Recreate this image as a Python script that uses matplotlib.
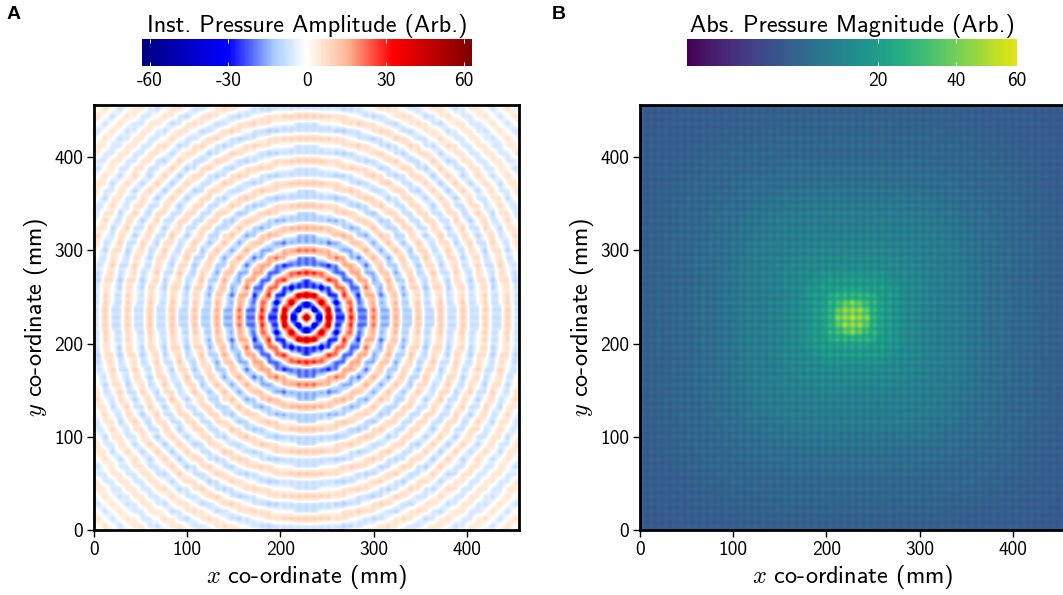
import numpy as np
import matplotlib
matplotlib.use("Agg")
import matplotlib.pyplot as plt
from matplotlib.colors import Normalize, PowerNorm, LinearSegmentedColormap, ListedColormap

inst_profile = [72,45,8,-5,-62,-42,-3,38,58,38,0,-32,-46,-32,0,26,38,26,0,-25,-36,-25,0,19,
                28,19,0,-18,-26,-18,0,13,20,13,0,-13,-20,-13,0,10,15,10,0,-11,-16,-11,0,9,
                14,9,0,-9,-14,-9,0,9,13,9,0,-9,-13,-9,0,8,12,8,0,-9,-14,-9,0,8,
                12,8,0,-8,-12,-8,0,7,10,7,0,-7,-11,-7,0,6,9,6,0,-7,-10,-7,0,5,
                8,5,0,-6,-9,-6,0,5,8,5,0,-5,-8,-5,0,5,7,5,0,-5,-7,-5]
abs_profile = [90,86,82,80,78,76,62,52,48,50,42,38,36,38,36,34,32,33,31,29,28,29,28,27,
               26,27,26,25,24,25,24,23,23,24,23,22,22,23,22,21,21,21,20,19,19,20,19,18,
               17,17,16,16,16,17,16,15,15,16,15,14,14,15,14,14,14,15,14,13,13,14,13,13,
               12,13,12,12,11,12,12,11,11,12,11,11,11,12,11,11,10,11,11,10,10,11,10,10,
               10,10,10,10,9,9,9,9,9,9,9,9,9,9,9,9,9,9,9,9]
# Brightness of lattice lines (even 4 mm cells) and lattice spots (odd cells)
inst_lattice = [0.65, 1.0]
abs_lattice = [0.42, 1.0]

inst_ticks = [-60, -30, 0, 30, 60]
inst_ticklabels = ["-60", "-30", "0", "30", "60"]
abs_ticks = [20, 40, 60]
abs_ticklabels = ["20", "40", "60"]
axis_ticks = [0, 100, 200, 300, 400]

plt.rcParams["font.family"] = ["cmss10", "DejaVu Sans"]
plt.rcParams["mathtext.fontset"] = "cm"
plt.rcParams["axes.unicode_minus"] = False

W, H = 1063, 595
fig = plt.figure(figsize=(W / 100, H / 100), dpi=100)


def box(l, t, r, b):
    return [l / W, 1 - b / H, (r - l) / W, (b - t) / H]


ax_a = fig.add_axes(box(94, 105, 519, 530))
ax_b = fig.add_axes(box(640, 105, 1065, 530))
cax_a = fig.add_axes(box(142, 39, 472, 66))
cax_b = fig.add_axes(box(687, 39, 1017, 66))

inst_cmap = LinearSegmentedColormap.from_list("inst", [
    (0.0, "#00007f"), (0.26, "#0000ff"), (0.40, "#a8ccff"), (0.48, "#f0f8ff"), (0.5, "#ffffff"),
    (0.52, "#fff5e8"), (0.62, "#ffb898"), (0.76, "#ff0000"), (1.0, "#7f0000")])
abs_cmap = ListedColormap(plt.get_cmap("viridis")(np.linspace(0, 0.96, 256)))

inst_arr = np.array(inst_profile, float)
abs_arr = np.array(abs_profile, float)

# Both panels use 4 mm cells, with the 8 mm lattice of spots centred on the focus
cells = 4 * np.arange(115)
gx, gy = np.meshgrid(cells, cells)
dx, dy = np.abs(gx - 228), np.abs(gy - 228)
odd = np.arange(115) % 2

ra = np.hypot(dx, dy)
ia = np.minimum(np.rint(ra / 3).astype(int), len(inst_arr) - 1)
wa = np.array(inst_lattice)
field_a = inst_arr[ia] * wa[odd][None, :] * wa[odd][:, None]
im_a = ax_a.imshow(field_a, origin="lower", extent=(-2, 458, -2, 458), cmap=inst_cmap,
                   norm=Normalize(-63, 63), interpolation="gaussian")

rb = (dx ** 3 + dy ** 3) ** (1 / 3)
ib = np.minimum(np.rint(rb / 3).astype(int), len(abs_arr) - 1)
wb = np.array(abs_lattice)
field_b = abs_arr[ib] * wb[odd][None, :] * wb[odd][:, None]
im_b = ax_b.imshow(field_b, origin="lower", extent=(-2, 458, -2, 458), cmap=abs_cmap,
                   norm=PowerNorm(0.5, vmin=0, vmax=60), interpolation="bicubic")

for ax in (ax_a, ax_b):
    ax.set_xlim(0, 456)
    ax.set_ylim(0, 456)
    ax.set_xticks(axis_ticks)
    ax.set_yticks(axis_ticks)
    ax.tick_params(labelsize=14, length=5, width=1, pad=3)
    for s in ax.spines.values():
        s.set_linewidth(2)
    ax.set_xlabel(r"$x$ co-ordinate (mm)", fontsize=17.5, labelpad=3)
    ax.set_ylabel(r"$y$ co-ordinate (mm)", fontsize=17.5, labelpad=3)

cb_a = fig.colorbar(im_a, cax=cax_a, orientation="horizontal")
cb_a.set_ticks(inst_ticks, labels=inst_ticklabels)
cb_b = fig.colorbar(im_b, cax=cax_b, orientation="horizontal")
cb_b.set_ticks(abs_ticks, labels=abs_ticklabels)
cb_b.minorticks_off()
for cbar, title in ((cb_a, "Inst. Pressure Amplitude (Arb.)"),
                    (cb_b, "Abs. Pressure Magnitude (Arb.)")):
    cbar.outline.set_visible(False)
    cbar.ax.tick_params(axis="x", which="major", direction="in", color="white", top=True,
                        bottom=True, length=3, width=0.7, labelsize=14, labelcolor="black", pad=4)
    cbar.ax.set_title(title, fontsize=17.5, pad=5)

fig.text(7 / W, 1 - 19 / H, "A", fontfamily="Liberation Sans", fontweight="bold", fontsize=14)
fig.text(552 / W, 1 - 19 / H, "B", fontfamily="Liberation Sans", fontweight="bold", fontsize=14)

fig.savefig("out.png", dpi=100)
